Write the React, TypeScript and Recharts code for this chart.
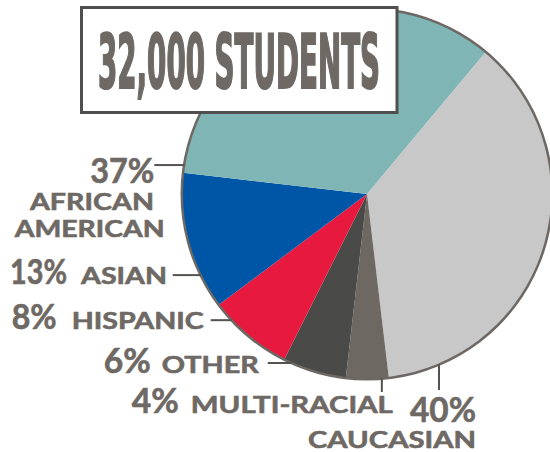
import React from 'react';
import { PieChart, Pie, Cell } from 'recharts';

// data, clockwise from the top right
const groups = ['Caucasian', 'Multi-racial', 'Other', 'Hispanic', 'Asian', 'African American'];
const shares = [40, 4, 6, 8, 13, 37];
const pctLabels = ['40%', '4%', '6%', '8%', '13%', '37%'];
const nameLabels = [['CAUCASIAN'], ['MULTI-RACIAL'], ['OTHER'], ['HISPANIC'], ['ASIAN'], ['AFRICAN', 'AMERICAN']];
const colors = ['#c8c8c8', '#6e6863', '#4a4a48', '#e8193f', '#0056a6', '#80b5b6'];
const title = '32,000 STUDENTS';

const TEXT = '#6e6964';
const RAD = Math.PI / 180;

// where each leader line leaves the pie and how the text sits around its end
const layout = [
  { angle: 292.9, dir: 'v', len: 25.6, pct: { dx: -29, dy: 31.7, w: 66 }, names: [{ dx: -131, dy: 58, w: 168 }] },
  { angle: 274.6, dir: 'v', len: 13.6, pct: { dx: -250, dy: 21, w: 47 }, names: [{ dx: -191, dy: 21, w: 202 }] },
  { angle: 246, dir: 'h', len: 24, pct: { dx: -164, dy: 10, w: 47 }, names: [{ dx: -106, dy: 10, w: 97 }] },
  { angle: 223, dir: 'h', len: 21, pct: { dx: -199, dy: 9.3, w: 45 }, names: [{ dx: -139, dy: 9.3, w: 132 }] },
  { angle: 206, dir: 'h', len: 28, pct: { dx: -162.7, dy: 9.4, w: 57 }, names: [{ dx: -91.7, dy: 9.4, w: 86 }] },
  {
    angle: 171, dir: 'h', len: 30, pct: { dx: -64, dy: 18, w: 64 },
    names: [{ dx: -124.3, dy: 45, w: 124 }, { dx: -139.6, dy: 72, w: 150 }],
  },
];

const data = groups.map((g, i) => ({ name: g, value: shares[i] }));
const ring = [{ name: 'edge', value: 1 }];

function renderLabel(props: any) {
  const { cx, cy, outerRadius, index } = props;
  const l = layout[index];
  const sx = cx + Math.cos(-l.angle * RAD) * outerRadius;
  const sy = cy + Math.sin(-l.angle * RAD) * outerRadius;
  const ex = l.dir === 'h' ? sx - l.len : sx;
  const ey = l.dir === 'v' ? sy + l.len : sy;
  return (
    <g key={'lbl' + index}>
      <line x1={sx} y1={sy} x2={ex} y2={ey} stroke="#55524f" strokeWidth={2} />
      <text
        x={ex + l.pct.dx}
        y={ey + l.pct.dy}
        fill={TEXT}
        stroke={TEXT}
        strokeWidth={0.6}
        fontFamily="Lato, 'Open Sans', sans-serif"
        fontWeight={700}
        fontSize={34}
        textLength={l.pct.w}
        lengthAdjust="spacingAndGlyphs"
      >
        {pctLabels[index]}
      </text>
      {nameLabels[index].map((t, j) => (
        <text
          key={j}
          x={ex + l.names[j].dx}
          y={ey + l.names[j].dy}
          fill={TEXT}
          stroke={TEXT}
          strokeWidth={0.6}
          fontFamily="Lato, 'Open Sans', sans-serif"
          fontWeight={700}
          fontSize={23}
          textLength={l.names[j].w}
          lengthAdjust="spacingAndGlyphs"
        >
          {t}
        </text>
      ))}
    </g>
  );
}

export default function App() {
  return (
    <div style={{ position: 'absolute', left: 0, top: 0, width: 550, height: 452, background: '#fff' }}>
      <PieChart width={550} height={452} margin={{ top: 0, right: 0, bottom: 0, left: 0 }}>
        <Pie
          data={data}
          dataKey="value"
          cx={367}
          cy={194}
          outerRadius={185}
          startAngle={50.1}
          endAngle={-309.9}
          stroke="none"
          label={renderLabel}
          labelLine={false}
          isAnimationActive={false}
        >
          {data.map((d, i) => (
            <Cell key={d.name} fill={colors[i]} />
          ))}
        </Pie>
        <Pie
          data={ring}
          dataKey="value"
          cx={367}
          cy={194}
          innerRadius={184}
          outerRadius={186.5}
          startAngle={90}
          endAngle={-270}
          fill="#6d6864"
          stroke="none"
          isAnimationActive={false}
        />
      </PieChart>
      <svg
        width={550}
        height={452}
        style={{ position: 'absolute', left: 0, top: 0, pointerEvents: 'none' }}
      >
        <rect x={81.5} y={7.5} width={315.5} height={105} fill="#fff" stroke="#4f4f4f" strokeWidth={3} />
        <g transform="translate(98,88) scale(0.6,1)">
          <text
            x={0}
            y={0}
            fill={TEXT}
            stroke={TEXT}
            strokeWidth={2.2}
            fontFamily="'Liberation Sans Narrow', 'DejaVu Sans Condensed', sans-serif"
            fontWeight={700}
            fontSize={75}
            textLength={470}
            lengthAdjust="spacingAndGlyphs"
          >
            {title}
          </text>
        </g>
      </svg>
    </div>
  );
}
